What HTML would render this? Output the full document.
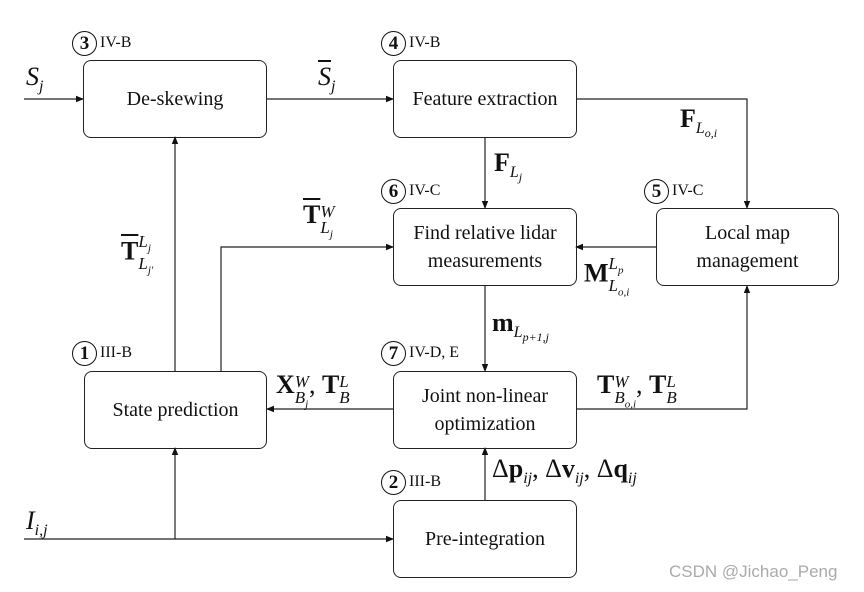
<!DOCTYPE html>
<html><head><meta charset="utf-8"><style>
body{margin:0;width:864px;height:592px;background:#fff;position:relative;overflow:hidden;font-family:"Liberation Serif",serif;color:#111}
.b{position:absolute;border:1.3px solid #222;border-radius:8px;box-sizing:border-box;display:flex;align-items:center;justify-content:center;text-align:center;font-size:20px;line-height:28px}
.t{position:absolute;white-space:nowrap;font-size:16px}
.m{position:absolute;white-space:nowrap;font-size:26px}
.m b{font-weight:bold}
.m i{font-style:italic}
sub,sup{font-size:16px;font-style:italic}
.c{display:inline-block;width:23px;height:23px;border:1.4px solid #111;border-radius:50%;text-align:center;line-height:23px;font-weight:bold;font-size:19px;vertical-align:middle;margin-right:3px}
.s{display:inline-block;vertical-align:-10px;line-height:16px;font-size:17px;font-style:italic}
</style></head><body>
<svg width="864" height="592" style="position:absolute;left:0;top:0">
<defs><marker id="a" markerWidth="8" markerHeight="8" refX="7" refY="4" orient="auto" markerUnits="userSpaceOnUse"><path d="M0,0.8 L8,4 L0,7.2 Z" fill="#111"/></marker></defs>
<g stroke="#222" stroke-width="1.2" fill="none">
<path d="M24,99 H83" marker-end="url(#a)"/>
<path d="M267,99 H393" marker-end="url(#a)"/>
<path d="M576,99 H747 V208" marker-end="url(#a)"/>
<path d="M485,137 V208" marker-end="url(#a)"/>
<path d="M656,247 H576" marker-end="url(#a)"/>
<path d="M485,286 V371" marker-end="url(#a)"/>
<path d="M393,409 H267" marker-end="url(#a)"/>
<path d="M576,409 H747 V286" marker-end="url(#a)"/>
<path d="M485,500 V448" marker-end="url(#a)"/>
<path d="M24,539 H393" marker-end="url(#a)"/>
<path d="M175,539 V448" marker-end="url(#a)"/>
<path d="M175,371 V137" marker-end="url(#a)"/>
<path d="M221,371 V247 H393" marker-end="url(#a)"/>
</g></svg>
<div class="b" style="left:83px;top:60px;width:184px;height:78px">De-skewing</div>
<div class="b" style="left:393px;top:60px;width:184px;height:78px">Feature extraction</div>
<div class="b" style="left:393px;top:208px;width:184px;height:78px">Find relative lidar<br>measurements</div>
<div class="b" style="left:656px;top:208px;width:183px;height:78px">Local map<br>management</div>
<div class="b" style="left:84px;top:371px;width:183px;height:78px">State prediction</div>
<div class="b" style="left:393px;top:371px;width:184px;height:78px">Joint non-linear<br>optimization</div>
<div class="b" style="left:393px;top:500px;width:184px;height:78px">Pre-integration</div>

<div class="t" style="left:72px;top:31px"><span class="c">3</span>IV-B</div>
<div class="t" style="left:381px;top:31px"><span class="c">4</span>IV-B</div>
<div class="t" style="left:381px;top:179px"><span class="c">6</span>IV-C</div>
<div class="t" style="left:644px;top:179px"><span class="c">5</span>IV-C</div>
<div class="t" style="left:72px;top:341px"><span class="c">1</span>III-B</div>
<div class="t" style="left:381px;top:341px"><span class="c">7</span>IV-D, E</div>
<div class="t" style="left:381px;top:470px"><span class="c">2</span>III-B</div>

<div class="m" style="left:26px;top:62px"><i>S</i><sub>j</sub></div>
<div class="m" style="left:318px;top:62px"><i style="text-decoration:overline">S</i><sub>j</sub></div>
<div class="m" style="left:680px;top:104px"><b>F</b><sub>L<sub style="font-size:12px">o,i</sub></sub></div>
<div class="m" style="left:494px;top:148px"><b>F</b><sub>L<sub style="font-size:12px">j</sub></sub></div>
<div class="m" style="left:303px;top:200px"><b style="text-decoration:overline">T</b><span class="s">W<br>L<sub style="font-size:11px">j</sub></span></div>
<div class="m" style="left:121px;top:234px"><b style="text-decoration:overline">T</b><span class="s">L<sub style="font-size:11px">j</sub><br>L<sub style="font-size:11px">j'</sub></span></div>
<div class="m" style="left:584px;top:256px"><b>M</b><span class="s">L<sub style="font-size:11px">p</sub><br>L<sub style="font-size:11px">o,i</sub></span></div>
<div class="m" style="left:492px;top:308px"><b>m</b><sub>L<sub style="font-size:12px">p+1,j</sub></sub></div>
<div class="m" style="left:276px;top:370px"><b>X</b><span class="s">W<br>B<sub style="font-size:11px">j</sub></span>, <b>T</b><span class="s">L<br>B</span></div>
<div class="m" style="left:597px;top:370px"><b>T</b><span class="s">W<br>B<sub style="font-size:11px">o,i</sub></span>, <b>T</b><span class="s">L<br>B</span></div>
<div class="m" style="left:492px;top:454px">Δ<b>p</b><sub>ij</sub>, Δ<b>v</b><sub>ij</sub>, Δ<b>q</b><sub>ij</sub></div>
<div class="m" style="left:26px;top:506px"><i>I</i><sub>i,j</sub></div>
<div style="position:absolute;left:669px;top:562px;font-family:'Liberation Sans',sans-serif;font-size:17px;color:#aaa">CSDN @Jichao_Peng</div>
</body></html>
